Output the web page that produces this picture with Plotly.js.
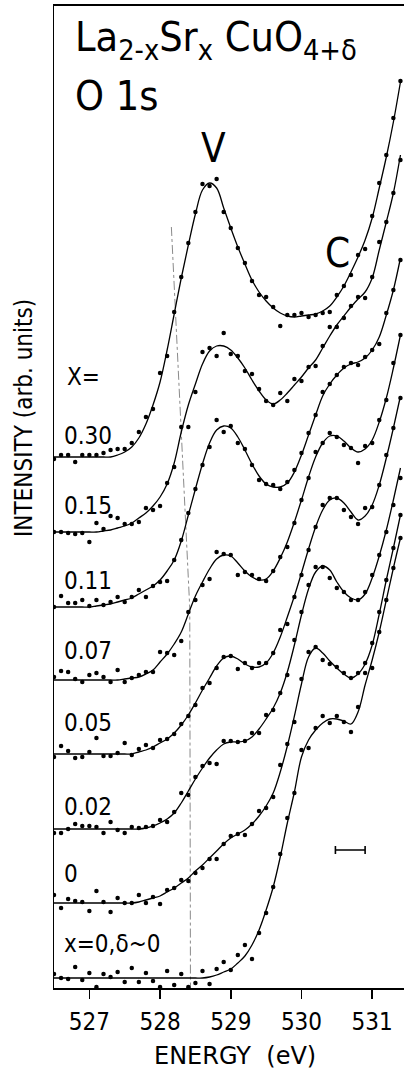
<!DOCTYPE html>
<html>
<head>
<meta charset="utf-8">
<script src="https://cdn.plot.ly/plotly-3.0.1.min.js"></script>
<style>html,body{margin:0;padding:0;background:#fff;}#chart{width:404px;height:1071px;}</style>
</head>
<body>
<div id="chart"></div>
<script>
// Photon energy grid (eV), one measured point every 0.1 eV
const energy = [526.5,526.6,526.7,526.8,526.9,527.0,527.1,527.2,527.3,527.4,
                527.5,527.6,527.7,527.8,527.9,528.0,528.1,528.2,528.3,528.4,
                528.5,528.6,528.7,528.8,528.9,529.0,529.1,529.2,529.3,529.4,
                529.5,529.6,529.7,529.8,529.9,530.0,530.1,530.2,530.3,530.4,
                530.5,530.6,530.7,530.8,530.9,531.0,531.1,531.2,531.3,531.4];

// Axis ticks
const tickValues = [527, 528, 529, 530, 531];
const tickLabels = ["527", "528", "529", "530", "531"];

// Sample labels (Sr content x)
const sampleLabels = ["0.30","0.15","0.11","0.07","0.05","0.02","0","x=0,δ~0"];

// Measured intensities (arb. units, vertically offset spectra)
const dots030 = [529,533,533,526,533,533,533,535,538,539,539,545,556,571,579,615,632,676,711,745,776,804,802,809,776,760,740,725,707,693,691,681,662,673,673,675,671,673,675,676,693,702,713,733,739,772,805,833,870,907];
const dots015 = [456,456,455,454,455,446,465,459,472,470,464,464,466,480,478,482,505,521,561,561,596,636,640,632,655,634,632,617,614,599,587,583,595,587,609,607,621,622,642,661,661,670,682,691,690,711,746,766,795,828];
const dots011 = [381,392,385,385,388,382,388,383,386,391,386,391,398,391,402,406,407,428,448,475,499,523,541,568,556,562,545,539,523,508,504,503,499,506,518,535,555,573,596,604,613,621,625,623,631,638,644,675,698,728];
const dots007 = [311,317,316,309,306,313,315,311,306,318,306,310,313,316,316,336,335,333,347,376,388,403,409,436,434,433,413,416,413,409,407,417,431,441,465,488,510,536,545,555,551,543,540,525,542,545,568,588,625,653];
const dots005 = [231,242,237,230,231,236,250,232,232,235,245,233,239,243,240,248,249,254,264,272,283,300,305,320,331,332,319,325,320,325,325,335,358,364,391,413,438,461,483,490,490,478,471,464,480,481,503,533,560,590];
const dots002 = [155,155,159,164,162,162,161,155,166,158,155,161,160,161,162,168,166,176,195,193,211,222,225,224,247,247,246,247,255,255,273,278,295,313,348,376,403,421,421,410,400,396,388,388,396,413,433,456,483,510];
const dots000 = [93,80,89,87,86,77,97,86,76,90,85,85,93,85,91,84,98,100,108,107,115,120,129,129,144,152,154,153,164,177,180,191,223,244,266,309,336,341,328,324,321,315,310,315,325,345,376,408,440,473];
const dotsD0  = [14,10,9,21,8,15,1,14,11,16,6,20,6,15,7,1,17,3,14,1,5,17,4,19,26,18,33,43,29,55,75,101,134,170,195,238,240,260,272,265,272,266,256,281,315,320,356,388,420,450];

// Smooth fitted curves through the data (same grid)
const fit030 = [531,531,531,531,531,531,531,531,531,533,536,541,550,564,583,606,638,674,710,743,774,798,805,800,780,760,741,724,708,696,687,680,675,672,671,672,673,674,677,682,691,702,716,731,748,770,800,831,866,906];
const fit015 = [456,456,456,456,456,456,456,457,458,460,462,465,470,475,482,491,504,525,556,583,604,624,637,642,642,638,630,620,608,597,588,584,588,595,603,611,620,628,640,652,663,672,681,689,696,710,738,766,795,833];
const fit011 = [381,381,381,381,381,381,382,383,384,386,388,390,394,398,402,408,417,428,447,473,499,524,545,558,562,560,551,538,524,512,504,501,501,505,516,533,553,573,592,604,613,620,624,626,630,638,651,673,698,730];
const fit007 = [308,308,308,308,308,308,308,308,308,308,309,310,311,314,318,326,334,344,356,374,392,406,419,429,433,432,425,417,411,408,409,417,430,446,466,488,511,531,545,552,552,547,540,536,539,548,566,590,620,653];
const fit005 = [234,234,234,234,234,234,234,234,234,234,234,234,236,238,241,245,249,255,263,273,285,298,310,322,330,332,329,324,321,321,325,335,351,371,392,415,439,461,478,488,490,485,476,468,472,483,503,530,560,592];
const fit002 = [159,159,159,159,159,159,159,159,159,159,159,159,159,160,162,165,169,175,185,197,209,220,230,238,244,246,246,247,251,259,269,280,295,316,343,373,399,416,422,418,406,396,390,388,394,410,432,458,488,520];
const fit000 = [85,85,85,85,85,85,85,85,85,85,85,85,86,88,90,92,96,100,105,110,117,123,130,137,144,150,154,158,164,172,182,195,216,242,272,304,331,340,335,327,320,314,310,314,324,343,374,408,440,473];
const fitD0  = [10,10,10,10,10,10,10,10,10,10,10,10,10,10,10,10,10,10,10,10,10,10,11,13,16,19,25,32,43,58,78,101,131,165,196,231,248,258,265,269,269,267,264,276,303,328,356,388,420,450];

// Guide line marking the edge onset (energy, intensity)
const guideE = [528.16, 528.42, 528.43];
const guideI = [761, 380, 0];

// Energy resolution bar
const resE = [530.69];
const resI = [138];
const resHalfWidth = 0.21;

const allDots = [dots030, dots015, dots011, dots007, dots005, dots002, dots000, dotsD0];
const allFits = [fit030, fit015, fit011, fit007, fit005, fit002, fit000, fitD0];

const FONT = "DejaVu Sans Condensed, DejaVu Sans, sans-serif";
const traces = [];
traces.push({x: guideE, y: guideI, mode: "lines", line: {color: "#8a8a8a", width: 1, dash: "dashdot"}, hoverinfo: "skip", showlegend: false});
allFits.forEach((f, i) => {
  traces.push({x: energy, y: f, mode: "lines", name: sampleLabels[i],
    line: {color: "#000", width: 1.3, shape: "spline", smoothing: 1}, showlegend: false});
});
allDots.forEach((d, i) => {
  traces.push({x: energy, y: d, mode: "markers", name: sampleLabels[i],
    marker: {color: "#000", size: 4.5}, showlegend: false});
});
traces.push({x: resE, y: resI, mode: "markers", marker: {size: 1, color: "rgba(0,0,0,0)"},
  error_x: {type: "constant", value: resHalfWidth, width: 4, thickness: 1.6, color: "#000"}, showlegend: false, hoverinfo: "skip"});

// label placement (paper coords)
const labelY = [0.5621, 0.4908, 0.4145, 0.3432, 0.2699, 0.1843, 0.1161, 0.0448];
const annotations = sampleLabels.map((t, i) => ({
  text: t, xref: "paper", yref: "paper", x: 0.0229, y: labelY[i], xanchor: "left", yanchor: "middle",
  showarrow: false, font: {family: FONT, size: 24, color: "#000"}
}));
annotations.push(
  {text: "X=", xref: "paper", yref: "paper", x: 0.0314, y: 0.6222, xanchor: "left", yanchor: "middle", showarrow: false, font: {family: FONT, size: 24, color: "#000"}},
  {text: "La<sub>2-x</sub>Sr<sub>x</sub> CuO<sub>4+δ</sub>", xref: "paper", yref: "paper", x: 0.0543, y: 0.9654, xanchor: "left", yanchor: "middle", showarrow: false, font: {family: FONT, size: 41, color: "#000"}},
  {text: "O 1s", xref: "paper", yref: "paper", x: 0.0543, y: 0.9084, xanchor: "left", yanchor: "middle", showarrow: false, font: {family: FONT, size: 41, color: "#000"}},
  {text: "V", xref: "paper", yref: "paper", x: 0.4543, y: 0.8554, xanchor: "center", yanchor: "middle", showarrow: false, font: {family: FONT, size: 40, color: "#000"}},
  {text: "C", xref: "paper", yref: "paper", x: 0.8086, y: 0.7485, xanchor: "center", yanchor: "middle", showarrow: false, font: {family: FONT, size: 40, color: "#000"}},
  {text: "INTENSITY (arb. units)", xref: "paper", yref: "paper", x: -0.0857, y: 0.5804, xanchor: "center", yanchor: "middle", textangle: -90, showarrow: false, font: {family: FONT, size: 24, color: "#000"}},
  {text: "ENERGY  (eV)", xref: "paper", yref: "paper", x: 0.5171, y: -0.0695, xanchor: "center", yanchor: "middle", showarrow: false, font: {family: "DejaVu Sans, sans-serif", size: 24, color: "#000"}}
);

const layout = {
  width: 404, height: 1071,
  margin: {l: 54, r: 0, t: 6, b: 83},
  paper_bgcolor: "#fff", plot_bgcolor: "#fff",
  showlegend: false,
  xaxis: {
    range: [526.5, 531.45], tickvals: tickValues, ticktext: tickLabels,
    ticks: "outside", ticklen: 9, tickwidth: 1.5, tickcolor: "#000",
    ticklabelstandoff: 2,
    showline: true, linewidth: 2, linecolor: "#000", mirror: true,
    showgrid: false, zeroline: false,
    tickfont: {family: FONT, size: 24, color: "#000"}
  },
  yaxis: {
    range: [0, 982], showline: true, linewidth: 1.5, linecolor: "#000",
    showticklabels: false, ticks: "", showgrid: false, zeroline: false
  },
  annotations: annotations
};

Plotly.newPlot("chart", traces, layout, {staticPlot: true, displayModeBar: false});
</script>
</body>
</html>
